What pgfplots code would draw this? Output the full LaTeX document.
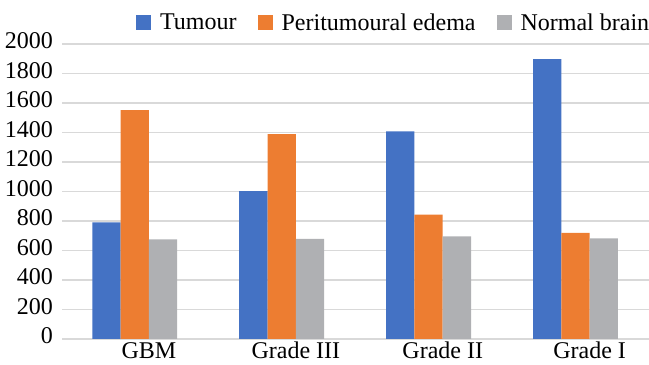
\documentclass[border=0pt]{standalone}
\usepackage{pgfplots}
\pgfplotsset{compat=1.18}
\usepackage{fontspec}
\setmainfont{Liberation Serif}
\definecolor{cblue}{HTML}{4472C4}
\definecolor{corange}{HTML}{ED7D31}
\definecolor{cgray}{HTML}{AFB0B3}
\definecolor{cgrid}{HTML}{D9D9D9}
\begin{document}
\begin{tikzpicture}
\path[use as bounding box] (0,0) rectangle (649bp,365bp);
\begin{axis}[
  at={(62bp,26bp)}, anchor=south west,
  scale only axis, width=587bp, height=295bp,
  xmin=-0.5916, xmax=3.404, ymin=0, ymax=2000,
  ybar, bar width=0.1927,
  xtick={0,1,2,3}, xticklabels={GBM,Grade III,Grade II,Grade I},
  ytick={0,200,...,2000},
  axis line style={draw=none},
  major tick length=0pt,
  ymajorgrids, grid style={cgrid, line width=1.2bp},
  tick label style={font=\fontsize{24bp}{28bp}\selectfont},
  /pgf/number format/assume math mode=true,
  /pgf/number format/1000 sep={},
  yticklabel style={anchor=east, inner sep=0pt, xshift=-9bp, yshift=3bp},
  xticklabel style={anchor=base, inner sep=0pt, yshift=-20bp},
  legend columns=3,
  legend style={at={(0.126,1.073)}, anchor=west, draw=none, fill=none,
    font=\fontsize{24bp}{28bp}\selectfont, inner sep=0pt,
    nodes={inner sep=0pt},
    /tikz/every odd column/.append style={column sep=9bp},
    /tikz/every even column/.append style={column sep=21bp}},
  legend image code/.code={\fill[#1] (0bp,-7.5bp) rectangle (15bp,7.5bp);},
]
\addplot[fill=cblue, draw=none, bar shift=-0.289] coordinates {(0,791) (1,1002) (2,1408) (3,1898)};
\addplot[fill=corange, draw=none, bar shift=-0.0963] coordinates {(0,1552) (1,1389) (2,843) (3,720)};
\addplot[fill=cgray, draw=none, bar shift=0.0963] coordinates {(0,676) (1,678) (2,696) (3,683)};
\legend{Tumour, Peritumoural edema, Normal brain}
\end{axis}
\end{tikzpicture}
\end{document}
